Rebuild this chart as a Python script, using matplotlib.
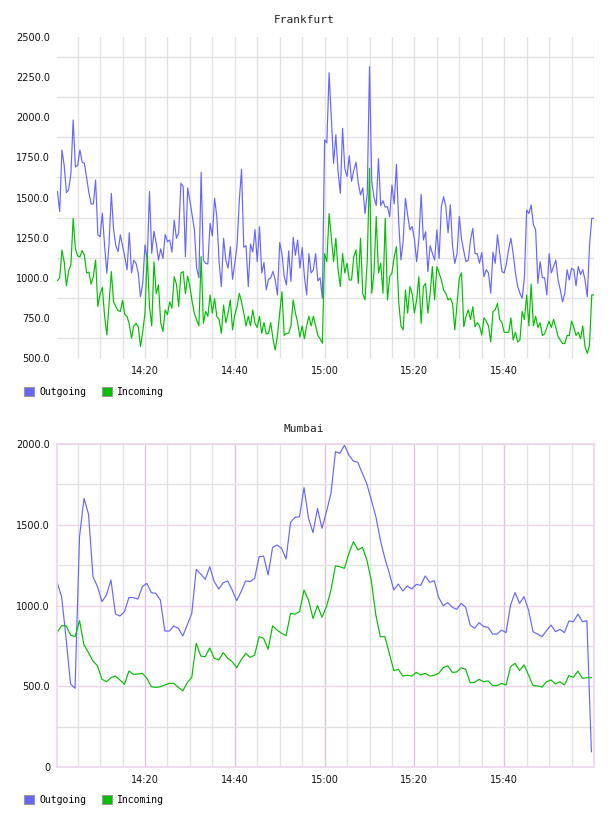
import matplotlib
matplotlib.use('Agg')
import matplotlib.pyplot as plt
import matplotlib.dates as mdates
from matplotlib.patches import Patch
from matplotlib.ticker import MultipleLocator, FuncFormatter
import pandas as pd

# Frankfurt: 30 second samples
fra_start = '2013-01-01 14:00:30'
fra_step = '30s'
fra_out = [1537, 1412, 1796, 1700, 1530, 1550, 1650, 1983, 1690, 1700, 1796, 1720, 1713, 1620, 1530, 1460,
           1460, 1609, 1267, 1256, 1402, 1200, 1028, 1215, 1526, 1300, 1200, 1163, 1267, 1200, 1130, 1049,
           1280, 1030, 1110, 1090, 1028, 882, 965, 1205, 1110, 1537, 1152, 1290, 1215, 1110, 1180, 1120,
           1270, 1225, 1235, 1160, 1360, 1245, 1280, 1589, 1568, 1132, 1560, 1480, 1390,
           1300, 1059, 1000, 1657, 1110, 1090, 1086, 1339, 1260, 1495, 1380, 1100, 945, 1246, 1110, 1060,
           1194, 990, 1090, 1200, 1480, 1676, 1190, 1200, 945, 1210, 1160, 1300, 1100, 1318, 1030, 1095,
           924, 990, 1000, 1040, 985, 893, 1219, 1150, 1010, 955, 1167, 976, 1252, 1140, 1235, 1060,
           1188, 1010, 893, 1150, 1030, 1050, 1150, 980, 1000, 872, 1859, 1840, 2277,
           2000, 1713, 1890, 1660, 1526, 1931, 1680, 1630, 1760, 1600, 1670, 1720, 1590, 1516, 1560, 1400,
           1526, 2315, 1600, 1500, 1450, 1742, 1450, 1480, 1440, 1443, 1380, 1578, 1460, 1707, 1350, 1111,
           1230, 1495, 1390, 1298, 1320, 1240, 1100, 1240, 1520, 1235, 1287, 1038, 1200, 1152, 1110, 1298,
           1120, 1443, 1505, 1443, 1280, 1454, 1194, 1090, 1152, 1381, 1240, 1165,
           1100, 1110, 1236, 1308, 1150, 1150, 1090, 1157, 1007, 1050, 1030, 903, 1160, 1090, 1267, 1150,
           1038, 1030, 1090, 1180, 1246, 1150, 1030, 945, 903, 872, 1000, 1422, 1400, 1454, 1330, 1300,
           965, 1100, 1000, 1000, 893, 1150, 1030, 1070, 1110, 986, 924, 850, 903, 1050, 986, 1059,
           1050, 950, 1070, 1020, 1050, 986, 882, 1200, 1370, 1370]
fra_in = [982, 1000, 1173, 1100, 950, 1044, 1080, 1370, 1180, 1136, 1130, 1170, 1140, 1030, 1035, 960,
          1010, 1110, 820, 900, 940, 760, 644, 840, 1038, 850, 820, 795, 790, 860, 770, 760,
          710, 623, 700, 715, 695, 571, 665, 780, 1152, 820, 700, 1100, 900, 955, 720, 665,
          800, 770, 850, 810, 1007, 960, 820, 1030, 1038, 900, 1010, 945, 850,
          778, 737, 700, 1132, 716, 790, 760, 893, 780, 870, 758, 740, 654, 830, 720, 780,
          862, 675, 770, 820, 903, 850, 780, 700, 760, 700, 800, 716, 690, 760, 654, 720,
          650, 654, 720, 620, 550, 640, 780, 913, 640, 654, 654, 700, 862, 780, 720, 630,
          700, 620, 700, 760, 700, 760, 700, 640, 620, 592, 1150, 1100, 1400,
          1250, 1100, 1246, 1049, 945, 1152, 1030, 1090, 986, 986, 1132, 1173, 965, 1246, 900, 862,
          1110, 1682, 903, 1030, 1381, 1030, 1090, 903, 1370, 862, 1007, 1030, 1130, 1194, 850, 700,
          675, 924, 780, 945, 900, 780, 862, 1007, 716, 945, 965, 780, 900, 1069, 862, 1069,
          1030, 986, 924, 903, 862, 872, 840, 675, 840, 1000, 1030, 695,
          760, 800, 740, 820, 695, 720, 700, 643, 750, 730, 700, 600, 790, 800, 840, 740,
          720, 660, 660, 660, 750, 612, 660, 600, 612, 790, 740, 893, 700, 960, 700, 760,
          690, 720, 640, 650, 690, 730, 690, 740, 690, 633, 612, 590, 590, 640, 640, 730,
          690, 640, 660, 620, 700, 570, 529, 580, 893, 893]

# Mumbai: 1 minute samples
mum_start = '2013-01-01 14:00:25'
mum_step = '60s'
mum_out = [1143, 1055, 800, 514, 487, 1426, 1663, 1566, 1178, 1117,
           1024, 1065, 1158, 947, 935, 962, 1049, 1049, 1040, 1117,
           1137, 1080, 1075, 1034, 842, 842, 873, 859, 811, 880,
           951, 1224, 1195, 1162, 1240, 1148, 1102, 1141, 1152, 1096,
           1030, 1086, 1152, 1148, 1168, 1302, 1306, 1189, 1360, 1374,
           1354, 1288, 1515, 1546, 1550, 1730, 1540, 1451, 1601, 1478,
           1581, 1694, 1952, 1942, 1993, 1931, 1894, 1886, 1818, 1752,
           1653, 1550, 1405, 1292, 1199, 1096, 1133, 1090, 1121, 1102,
           1131, 1125, 1183, 1143, 1154, 1049, 999, 1018, 989, 976,
           1013, 989, 879, 859, 894, 870, 865, 823, 823, 848,
           832, 1003, 1080, 1013, 1055, 972, 838, 823, 807, 844,
           879, 838, 852, 832, 904, 900, 947, 900, 906, 95]
mum_in = [832, 875, 875, 817, 807, 906, 755, 708, 656, 627,
          543, 528, 553, 563, 539, 512, 594, 574, 576, 580,
          549, 497, 493, 497, 508, 518, 518, 493, 471, 522,
          555, 766, 687, 683, 737, 673, 663, 708, 673, 652,
          615, 663, 704, 679, 693, 807, 797, 729, 875, 848,
          828, 813, 951, 947, 962, 1096, 1034, 920, 1000, 927,
          993, 1096, 1245, 1240, 1230, 1323, 1395, 1344, 1360, 1282,
          1150, 940, 807, 807, 704, 597, 605, 563, 568, 563,
          586, 570, 580, 563, 568, 580, 615, 627, 586, 588,
          615, 605, 522, 524, 543, 528, 533, 504, 504, 518,
          508, 621, 642, 597, 632, 570, 504, 502, 495, 528,
          539, 514, 528, 508, 566, 555, 594, 549, 553, 553]

x_labels = ['14:20', '14:40', '15:00', '15:20', '15:40']
x_range = ['2013-01-01 14:00:24', '2013-01-01 16:00:00']
series_names = ['Outgoing', 'Incoming']

BLUE = '#6666ff'
GREEN = '#00c000'
GRID = '#e2e2e2'
PINK = '#ecd6ec'
PURPLE = '#dcc2dc'
MONO = 'DejaVu Sans Mono'

fra_t = pd.date_range(fra_start, periods=len(fra_out), freq=fra_step)
mum_t = pd.date_range(mum_start, periods=len(mum_out), freq=mum_step)
tick_times = [pd.Timestamp('2013-01-01 ' + s) for s in x_labels]

fig = plt.figure(figsize=(6.08, 8.16), dpi=100)
ax1 = fig.add_axes([57/608, 1-358/816, 537/608, 321/816])
ax2 = fig.add_axes([57/608, 1-767/816, 537/608, 323/816])


def style_time_axis(ax):
    ax.set_xlim(pd.Timestamp(x_range[0]), pd.Timestamp(x_range[1]))
    ax.set_xticks(tick_times)
    ax.set_xticklabels(x_labels)
    ax.xaxis.set_minor_locator(mdates.MinuteLocator(byminute=range(0, 60, 5)))
    ax.tick_params(which='both', length=0, labelsize=7, colors='#111111')
    ax.tick_params(axis='x', pad=6)
    ax.tick_params(axis='y', pad=5)
    ax.set_axisbelow(True)


# Frankfurt
ax1.plot(fra_t, fra_out, color=BLUE, lw=0.85)
ax1.plot(fra_t, fra_in, color=GREEN, lw=0.85)
style_time_axis(ax1)
ax1.set_ylim(500, 2500)
ax1.yaxis.set_major_locator(MultipleLocator(250))
ax1.yaxis.set_minor_locator(MultipleLocator(250, offset=125))
ax1.yaxis.set_major_formatter(FuncFormatter(lambda v, p: f'{v:.1f}'))
ax1.grid(axis='x', which='both', color=GRID, lw=1.0)
ax1.grid(axis='y', which='minor', color=GRID, lw=1.0)
for s in ax1.spines.values():
    s.set_visible(False)

# Mumbai
ax2.plot(mum_t, mum_out, color=BLUE, lw=0.85)
ax2.plot(mum_t, mum_in, color=GREEN, lw=0.85)
style_time_axis(ax2)
ax2.set_ylim(0, 2000)
ax2.yaxis.set_major_locator(MultipleLocator(500))
ax2.yaxis.set_minor_locator(MultipleLocator(250))
ax2.yaxis.set_major_formatter(FuncFormatter(lambda v, p: '0' if v == 0 else f'{v:.1f}'))
ax2.grid(axis='x', which='major', color=PURPLE, lw=1.0)
ax2.grid(axis='x', which='minor', color=GRID, lw=1.0)
ax2.grid(axis='y', which='major', color=PINK, lw=1.0)
ax2.grid(axis='y', which='minor', color=GRID, lw=1.0)
for s in ax2.spines.values():
    s.set_color(PINK)
    s.set_linewidth(1.2)

fig.text(0.5, 1-20/816, 'Frankfurt', ha='center', va='center', family=MONO, fontsize=8, color='#222222')
fig.text(0.5, 1-429/816, 'Mumbai', ha='center', va='center', family=MONO, fontsize=8, color='#222222')

for ypix in (392, 800):
    handles = [Patch(facecolor=BLUE, edgecolor='#999999', lw=0.8),
               Patch(facecolor=GREEN, edgecolor='#999999', lw=0.8)]
    fig.legend(handles, series_names, loc='center left', bbox_to_anchor=(24/608, 1-ypix/816),
               ncol=2, frameon=False, prop={'family': MONO, 'size': 7},
               handlelength=1.05, handleheight=1.0, handletextpad=0.5,
               columnspacing=1.6, borderpad=0, borderaxespad=0)

fig.savefig('out.png', dpi=100)
